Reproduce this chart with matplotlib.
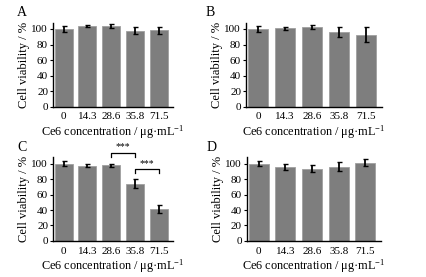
import matplotlib.pyplot as plt

conc = ["0", "14.3", "28.6", "35.8", "71.5"]
panels = ["A", "B", "C", "D"]
viability = {
    "A": [100, 104, 103.5, 98, 98.5],
    "B": [100, 101, 102, 96, 92.5],
    "C": [100, 97, 97.5, 74, 41],
    "D": [100, 96, 93.5, 96, 101],
}
errors = {
    "A": [3.5, 1.5, 2.5, 4, 4.5],
    "B": [3.5, 2, 2.5, 6, 9.5],
    "C": [3, 2, 2.5, 6, 5],
    "D": [3, 4, 4, 6, 4.5],
}
# significance brackets for panel C: (left bar, right bar, height)
brackets = [(2, 3, 114), (3, 4, 93)]

plt.rcParams["font.family"] = ["Liberation Serif", "DejaVu Serif"]
plt.rcParams["mathtext.fontset"] = "custom"
plt.rcParams["mathtext.rm"] = "Liberation Serif"
plt.rcParams["mathtext.it"] = "Liberation Serif:italic"

fig = plt.figure(figsize=(4.27, 2.77), dpi=100)
positions = {
    "A": [0.124, 0.614, 0.281, 0.304],
    "B": [0.576, 0.614, 0.319, 0.304],
    "C": [0.124, 0.130, 0.281, 0.302],
    "D": [0.578, 0.130, 0.315, 0.302],
}

for name in panels:
    ax = fig.add_axes(positions[name])
    x = range(len(conc))
    ax.bar(x, viability[name], width=0.75, color="#7e7e7e", edgecolor="#a0a0a0", linewidth=0.6)
    ax.errorbar(x, viability[name], yerr=errors[name], fmt="none", ecolor="black",
                elinewidth=1.3, capsize=1.8, capthick=1.0)
    ax.set_xlim(-0.45, 4.6)
    ax.set_ylim(0, 108)
    ax.set_yticks([0, 20, 40, 60, 80, 100])
    ax.set_xticks(list(x))
    ax.set_xticklabels(conc)
    ax.tick_params(axis="y", direction="out", length=2.5, width=0.8, labelsize=8, pad=1)
    ax.tick_params(axis="x", length=0, labelsize=8, pad=4)
    for side in ("top", "right"):
        ax.spines[side].set_visible(False)
    for side in ("left", "bottom"):
        ax.spines[side].set_linewidth(1.0)
    ax.set_ylabel("Cell viability / %", fontsize=9, labelpad=1)
    ax.set_xlabel("Ce6 concentration / μg·mL$^{\\mathregular{-1}}$", fontsize=8.8, labelpad=1.5)
    ax.text(-0.3, 1.12, name, transform=ax.transAxes, fontsize=10, va="center", ha="left")

    if name == "C":
        for a, b, h in brackets:
            ax.plot([a, a, b, b], [h - 5.5, h, h, h - 5.5], color="black", lw=0.9, clip_on=False)
            ax.text((a + b) / 2, h + 1.5, "***", ha="center", va="bottom", fontsize=7, clip_on=False)

fig.savefig("out.png", dpi=100)
plt.close(fig)
